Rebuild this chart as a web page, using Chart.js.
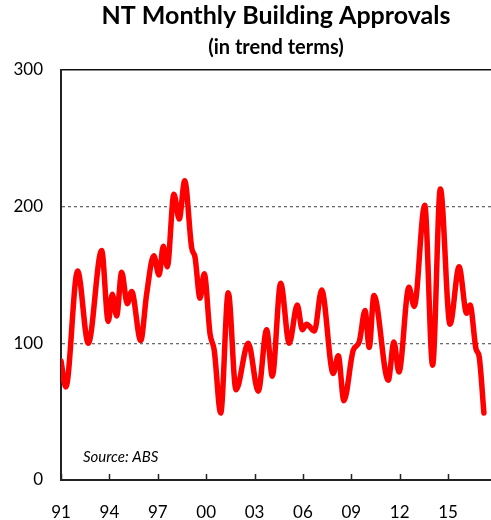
<!DOCTYPE html>
<html>
<head>
<meta charset="utf-8">
<script src="https://cdn.jsdelivr.net/npm/chart.js@4/dist/chart.umd.min.js"></script>
<style>
  body { margin: 0; background: #fff; }
  #wrap { width: 491px; height: 520px; }
</style>
</head>
<body>
<div id="wrap"><canvas id="approvalsChart" width="491" height="520"></canvas></div>
<script>
// NT monthly building approvals, trend
const years = [
  1991.0, 1991.3, 1992.03, 1992.69, 1993.52, 1993.93, 1994.18, 1994.45, 1994.76, 1995.11,
  1995.38, 1995.94, 1996.31, 1996.75, 1997.08, 1997.34, 1997.59, 1998.0, 1998.33, 1998.67,
  1999.1, 1999.31, 1999.62, 1999.88, 2000.24, 2000.5, 2000.9, 2001.37, 2001.85, 2002.61,
  2003.23, 2003.75, 2004.1, 2004.62, 2005.15, 2005.65, 2005.96, 2006.23, 2006.71, 2007.16,
  2007.88, 2008.19, 2008.54, 2009.12, 2009.49, 2009.85, 2010.11, 2010.4, 2011.29, 2011.64,
  2011.95, 2012.57, 2012.9, 2013.55, 2014.04, 2014.52, 2015.12, 2015.68, 2016.15, 2016.36,
  2016.73, 2016.93, 2017.22
];
const approvals = [
  87, 68, 153, 100, 168, 116, 136, 120, 152, 129,
  138, 102, 136, 164, 150, 171, 156, 209, 191, 219,
  170, 163, 133, 151, 107, 95, 49, 137, 66, 100,
  65, 110, 76, 144, 100, 128, 110, 114, 109, 139,
  78, 91, 58, 95, 101, 124, 97, 135, 73, 101,
  79, 141, 127, 201, 84, 213, 114, 156, 122, 128,
  96, 90, 49
];
const tickYears = [1991, 1994, 1997, 2000, 2003, 2006, 2009, 2012, 2015];
const yTicks = [0, 100, 200, 300];
const dashedAt = [100, 200];
const sourceNote = "Source: ABS";
const sourceAt = [1992.36, 17]; // year, value

const FONT = "Lato";

// text note plus the short inward tick marks on the year axis
const extrasPlugin = {
  id: "extras",
  afterDraw(chart) {
    const { ctx, scales } = chart;
    const x = scales.x;
    ctx.save();
    ctx.strokeStyle = "#222";
    ctx.lineWidth = 1.5;
    tickYears.forEach(v => {
      const px = Math.round(x.getPixelForValue(v)) + 0.5;
      ctx.beginPath();
      ctx.moveTo(px, x.top);
      ctx.lineTo(px, x.top - 6);
      ctx.stroke();
    });
    ctx.font = "italic 15px " + FONT;
    ctx.fillStyle = "#000";
    ctx.textAlign = "left";
    ctx.textBaseline = "middle";
    ctx.fillText(sourceNote, x.getPixelForValue(sourceAt[0]), scales.y.getPixelForValue(sourceAt[1]));
    ctx.restore();
  }
};

const ctx = document.getElementById("approvalsChart").getContext("2d");
new Chart(ctx, {
  type: "line",
  data: {
    datasets: [{
      label: "NT Building Approvals",
      data: years.map((yr, i) => ({ x: yr, y: approvals[i] })),
      borderColor: "#ff0000",
      borderWidth: 5.5,
      borderCapStyle: "round",
      borderJoinStyle: "round",
      pointRadius: 0,
      cubicInterpolationMode: "monotone",
      fill: false
    }]
  },
  options: {
    responsive: false,
    animation: false,
    layout: { padding: 0 },
    plugins: {
      legend: { display: false },
      tooltip: { enabled: false },
      title: {
        display: true,
        text: "NT Monthly Building Approvals",
        fullSize: false,
        color: "#000",
        font: { family: FONT, size: 25, weight: "bold" },
        padding: { top: 1, bottom: 2 }
      },
      subtitle: {
        display: true,
        text: "(in trend terms)",
        fullSize: false,
        color: "#000",
        font: { family: FONT, size: 20, weight: "bold" },
        padding: { top: 3, bottom: 10 }
      }
    },
    scales: {
      x: {
        type: "linear",
        position: "bottom",
        min: 1991,
        max: 2017.66,
        afterBuildTicks: scale => { scale.ticks = tickYears.map(v => ({ value: v })); },
        afterFit: scale => { scale.height = 40; },
        ticks: {
          color: "#000",
          font: { family: FONT, size: 17 },
          padding: 22,
          maxRotation: 0,
          autoSkip: false,
          callback: v => String(v % 100).padStart(2, "0")
        },
        grid: { drawOnChartArea: false, drawTicks: false },
        border: { color: "#222", width: 2 }
      },
      xTop: {
        type: "linear",
        position: "top",
        min: 0,
        max: 1,
        afterFit: scale => { scale.height = 0; },
        ticks: { display: false },
        grid: { display: false, drawTicks: false },
        border: { color: "#111", width: 1.5 }
      },
      y: {
        min: 0,
        max: 300,
        afterBuildTicks: scale => { scale.ticks = yTicks.map(v => ({ value: v })); },
        afterFit: scale => { scale.width = 61; },
        ticks: {
          color: "#000",
          font: { family: FONT, size: 17 },
          padding: 18
        },
        grid: {
          drawTicks: false,
          lineWidth: 1.3,
          color: c => dashedAt.includes(c.tick && c.tick.value) ? "#6b6b6b" : "rgba(0,0,0,0)"
        },
        border: { color: "#222", width: 2, dash: [3, 3] }
      }
    }
  },
  plugins: [extrasPlugin]
});
</script>
</body>
</html>
